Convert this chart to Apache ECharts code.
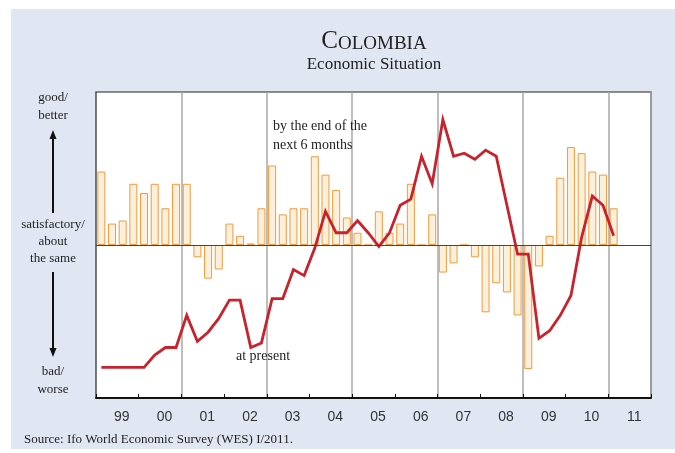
<!DOCTYPE html>
<html>
<head>
<meta charset="utf-8">
<script src="https://cdn.jsdelivr.net/npm/echarts@6/dist/echarts.min.js"></script>
<style>
  html, body { margin: 0; padding: 0; background: #ffffff; }
  #chart { width: 675px; height: 453px; }
</style>
</head>
<body>
<div id="chart"></div>
<script>
// Year labels along the bottom axis (1999 – 2011)
var yearLabels = ['99', '00', '01', '02', '03', '04', '05', '06', '07', '08', '09', '10', '11'];

// Expected economic situation by the end of the next 6 months (quarterly balance, 1999 Q1 – 2011 Q1)
var expectations = [48, 14, 16, 40, 34, 40, 24, 40, 40, -8, -22, -16, 14, 6, 1, 24,
                    52, 20, 24, 24, 58, 46, 36, 18, 8, 0, 22, 8, 14, 40, 0, 20,
                    -18, -12, 0, -8, -44, -25, -31, -46, -81, -14, 6, 44, 64, 60, 48, 46,
                    24];

// Assessment of the present economic situation (same quarters)
var present = [-80, -80, -80, -80, -80, -72, -67, -67, -46, -63, -57, -48, -36, -36, -67, -64,
               -35, -35, -16, -20, -2, 22, 8, 8, 16, 8, -1, 8, 26, 30, 58, 40,
               82, 58, 60, 56, 62, 58, 26, -6, -6, -61, -56, -46, -33, 5, 32, 26,
               6];

// Quarterly categories spanning the whole axis, four per year
var quarters = [];
yearLabels.forEach(function (y) {
  for (var q = 1; q <= 4; q++) quarters.push(y + 'Q' + q);
});

var serif = 'Liberation Serif';
var sans = 'Liberation Sans';
var ink = '#222222';

var chart = echarts.init(document.getElementById('chart'), null, { renderer: 'canvas' });

chart.setOption({
  animation: false,
  backgroundColor: '#ffffff',
  grid: {
    left: 96, right: 24, top: 92, bottom: 55,
    show: true, backgroundColor: '#ffffff', borderColor: '#222222', borderWidth: 1.2,
    containLabel: false
  },
  xAxis: [
    {
      type: 'category',
      data: quarters,
      position: 'bottom',
      boundaryGap: true,
      axisLine: { show: false },
      axisTick: { show: false },
      axisLabel: { show: false },
      splitLine: {
        show: true,
        interval: function (index) { return index > 0 && index % 8 === 0; },
        lineStyle: { color: '#a8a8a8', width: 1.5 }
      }
    },
    {
      type: 'category',
      data: yearLabels,
      position: 'bottom',
      boundaryGap: true,
      axisLine: { show: true, lineStyle: { color: '#111111', width: 2 } },
      axisTick: { show: true, inside: true, length: 4, interval: 0, lineStyle: { color: '#111111', width: 1 } },
      axisLabel: { show: true, interval: 0, margin: 12, padding: [0, 0, 0, 9],
                   color: '#333333', fontFamily: sans, fontSize: 14 },
      splitLine: { show: false }
    }
  ],
  yAxis: {
    type: 'value',
    min: -100, max: 100, interval: 100,
    axisLine: { show: false },
    axisTick: { show: false },
    axisLabel: { show: false },
    splitLine: { show: false }
  },
  series: [
    {
      name: 'by the end of the next 6 months',
      type: 'bar',
      xAxisIndex: 0,
      data: expectations,
      barWidth: 8,
      itemStyle: { color: '#fbf0db', borderColor: '#f39a3c', borderWidth: 1 },
      // "satisfactory" reference line, drawn over the bar bases
      markLine: {
        silent: true,
        symbol: 'none',
        label: { show: false },
        lineStyle: { color: '#444444', width: 1, type: 'solid' },
        data: [{ yAxis: 0 }]
      },
      z: 2
    },
    {
      name: 'at present',
      type: 'line',
      xAxisIndex: 0,
      data: present,
      showSymbol: false,
      symbol: 'none',
      lineStyle: { color: '#c8232c', width: 2.8, join: 'miter' },
      z: 3
    }
  ],
  graphic: [
    // light blue panel behind everything
    { type: 'rect', z: -10, silent: true,
      shape: { x: 11, y: 9, width: 664, height: 440 },
      style: { fill: '#e0e7f3' } },
    // title in small capitals
    { type: 'text', z: 10, x: 374, y: 41,
      style: {
        text: '{b|C}{s|OLOMBIA}',
        align: 'center', verticalAlign: 'middle',
        fill: ink,
        rich: {
          b: { fontFamily: serif, fontSize: 25, fill: ink, verticalAlign: 'bottom' },
          s: { fontFamily: serif, fontSize: 19, fill: ink, verticalAlign: 'bottom' }
        }
      } },
    { type: 'text', z: 10, x: 374, y: 65,
      style: { text: 'Economic Situation', align: 'center', verticalAlign: 'middle',
               fontFamily: serif, fontSize: 17, fill: ink } },
    // left scale description
    { type: 'text', z: 10, x: 53, y: 107,
      style: { text: 'good/\nbetter', align: 'center', verticalAlign: 'middle',
               fontFamily: serif, fontSize: 13, lineHeight: 18, fill: ink } },
    { type: 'text', z: 10, x: 53, y: 242,
      style: { text: 'satisfactory/\nabout\nthe same', align: 'center', verticalAlign: 'middle',
               fontFamily: serif, fontSize: 13, lineHeight: 17, fill: ink } },
    { type: 'text', z: 10, x: 53, y: 381,
      style: { text: 'bad/\nworse', align: 'center', verticalAlign: 'middle',
               fontFamily: serif, fontSize: 13, lineHeight: 18, fill: ink } },
    { type: 'line', z: 10, shape: { x1: 53, y1: 213, x2: 53, y2: 137 },
      style: { stroke: '#111111', lineWidth: 2 } },
    { type: 'polygon', z: 10, shape: { points: [[53, 130], [49.5, 139], [56.5, 139]] },
      style: { fill: '#111111' } },
    { type: 'line', z: 10, shape: { x1: 53, y1: 272, x2: 53, y2: 350 },
      style: { stroke: '#111111', lineWidth: 2 } },
    { type: 'polygon', z: 10, shape: { points: [[53, 357], [49.5, 348], [56.5, 348]] },
      style: { fill: '#111111' } },
    // series annotations
    { type: 'text', z: 10, x: 273, y: 136,
      style: { text: 'by the end of the\nnext 6 months', align: 'left', verticalAlign: 'middle',
               fontFamily: serif, fontSize: 14, lineHeight: 19, fill: ink } },
    { type: 'text', z: 10, x: 236, y: 356,
      style: { text: 'at present', align: 'left', verticalAlign: 'middle',
               fontFamily: serif, fontSize: 14, fill: ink } },
    // source line
    { type: 'text', z: 10, x: 24, y: 440,
      style: { text: 'Source: Ifo World Economic Survey (WES) I/2011.', align: 'left', verticalAlign: 'middle',
               fontFamily: serif, fontSize: 13, fill: ink } }
  ]
});
</script>
</body>
</html>
